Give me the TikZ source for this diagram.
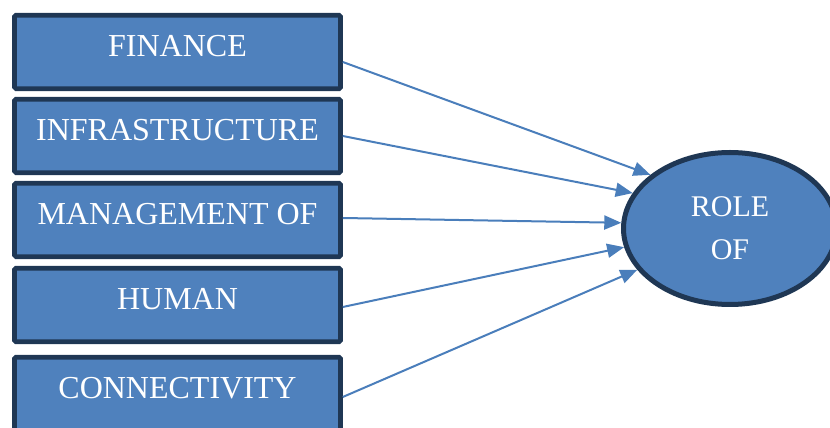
\documentclass[tikz,border=0pt]{standalone}
\usepackage{fontspec}
\setmainfont{Liberation Serif}
\usetikzlibrary{shapes.geometric, arrows.meta, calc}
\definecolor{boxblue}{HTML}{4F81BD}
\definecolor{boxline}{HTML}{1F3754}
\definecolor{arrowblue}{HTML}{4A7EBB}
\tikzstyle{factor} = [rectangle, rounded corners=1.5pt, minimum width=326pt, inner xsep=0pt, inner ysep=0pt, text height=41pt, text depth=32.5pt, text centered, draw=boxline, line width=4.6pt, fill=boxblue, text=white, font=\fontsize{32}{38}\selectfont]
\tikzstyle{outcome} = [ellipse, minimum width=213pt, minimum height=152pt, inner sep=0pt, align=center, draw=boxline, line width=5pt, fill=boxblue, text=white, font=\fontsize{30}{43}\selectfont]
\tikzstyle{link} = [-{Triangle[length=17pt,width=14pt]}, line width=2pt, draw=arrowblue]

\begin{document}
\begin{tikzpicture}[x=1pt, y=1pt]
		\clip (0,0) rectangle (830,428);
		\node (finance) [factor] at (177.5,376) {FINANCE};
		\node (infrastructure) [factor] at ($(finance) + (0, -84)$) {INFRASTRUCTURE};
		\node (management) [factor] at ($(infrastructure) + (0, -84)$) {MANAGEMENT OF};
		\node (human) [factor] at ($(management) + (0, -85)$) {HUMAN};
		\node (connectivity) [factor] at ($(human) + (0, -89)$) {CONNECTIVITY};
		\node (role) [outcome] at (730,199.5) {ROLE\\OF};
		
		\draw[link] ([yshift=-10pt]finance.east) -- (role.146);
		\draw[link] (infrastructure.east) -- (role.160);
		\draw[link] ([yshift=2pt]management.east) -- (role.177);
		\draw[link] ([yshift=-2pt]human.east) -- (role.190);
		\draw[link] ([yshift=-3pt]connectivity.east) -- (role.204);
	\end{tikzpicture}
\end{document}
